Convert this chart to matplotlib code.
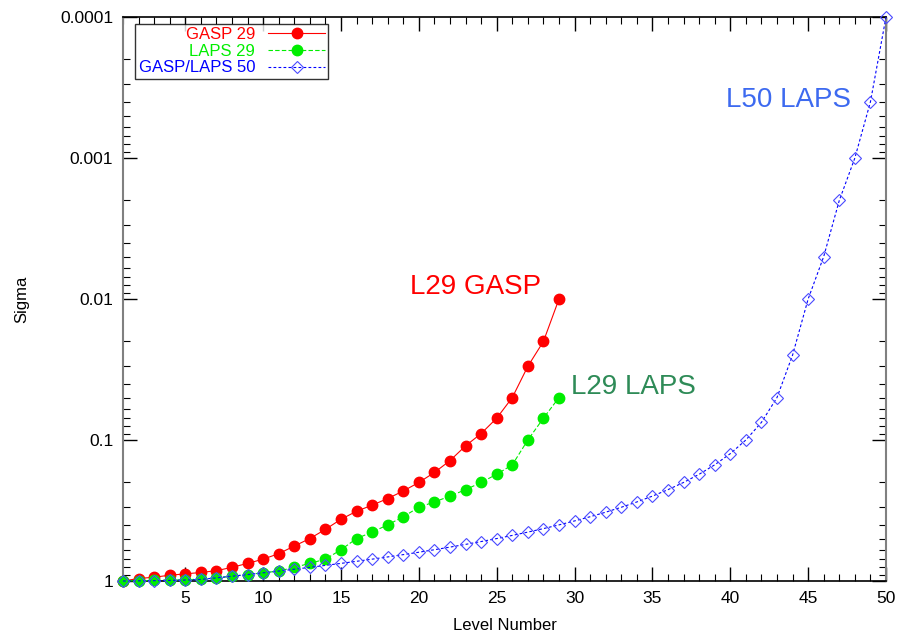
import matplotlib
matplotlib.use('Agg')
import matplotlib.pyplot as plt
from matplotlib.ticker import FixedLocator, FuncFormatter, MultipleLocator, LogLocator

plt.rcParams['font.family'] = ['Liberation Sans', 'DejaVu Sans']

levels_29 = list(range(1, 30))
levels_50 = list(range(1, 51))

gasp_29 = [1.0, 0.96, 0.94, 0.91, 0.89, 0.87, 0.845, 0.8, 0.75, 0.7,
           0.64, 0.565, 0.5, 0.43, 0.365, 0.32, 0.29, 0.26, 0.23, 0.2,
           0.17, 0.14, 0.11, 0.09, 0.07, 0.05, 0.03, 0.02, 0.01]

laps_29 = [1.0, 0.995, 0.99, 0.985, 0.98, 0.97, 0.95, 0.925, 0.9, 0.875,
           0.85, 0.8, 0.75, 0.7, 0.6, 0.5, 0.45, 0.4, 0.35, 0.3,
           0.275, 0.25, 0.225, 0.2, 0.175, 0.15, 0.1, 0.07, 0.05]

laps_50 = [1.0, 0.9975, 0.995, 0.99, 0.985, 0.975, 0.95, 0.925, 0.9, 0.875,
           0.85, 0.825, 0.8, 0.775, 0.75, 0.725, 0.7, 0.675, 0.65, 0.625,
           0.6, 0.575, 0.55, 0.525, 0.5, 0.475, 0.45, 0.425, 0.4, 0.375,
           0.35, 0.325, 0.3, 0.275, 0.25, 0.225, 0.2, 0.175, 0.15, 0.125,
           0.1, 0.075, 0.05, 0.025, 0.01, 0.005, 0.002, 0.001, 0.0004, 0.0001]

y_ticks = [1, 0.1, 0.01, 0.001, 0.0001]
y_labels = ['1', '0.1', '0.01', '0.001', '0.0001']

fig = plt.figure(figsize=(8.98, 6.37), dpi=100)
ax = fig.add_axes([123 / 898, 1 - 581 / 637, 763 / 898, 564 / 637])

ax.plot(levels_29, gasp_29, color='#ff0000', lw=0.8, ls='-', marker='o',
        ms=7.5, mfc='#ff0000', mec='#ff0000', label='GASP 29', zorder=3, clip_on=False)
ax.plot(levels_29, laps_29, color='#00ee00', lw=0.8, ls=(0, (4, 2)), marker='o',
        ms=7.5, mfc='#00ee00', mec='#00ee00', label='LAPS 29', zorder=4, clip_on=False)
ax.plot(levels_50, laps_50, color='#0000ff', lw=0.8, ls=(0, (2.5, 2)), marker='D',
        ms=6, mfc='none', mec='#4a4aff', mew=0.8, label='GASP/LAPS 50', zorder=5,
        clip_on=False)

ax.set_yscale('log')
ax.set_ylim(1, 0.0001)
ax.set_xlim(1, 50)

ax.yaxis.set_major_locator(FixedLocator(y_ticks))
ax.yaxis.set_major_formatter(FuncFormatter(lambda v, p: y_labels[y_ticks.index(v)] if v in y_ticks else ''))
ax.yaxis.set_minor_locator(LogLocator(base=10, subs=range(2, 10)))
ax.yaxis.set_minor_formatter(FuncFormatter(lambda v, p: ''))
ax.xaxis.set_major_locator(FixedLocator([5, 10, 15, 20, 25, 30, 35, 40, 45, 50]))
ax.xaxis.set_minor_locator(MultipleLocator(1))

ax.tick_params(which='both', direction='in', top=True, right=True, labelsize=12.5, pad=7)
ax.tick_params(which='major', length=10, width=1)
ax.tick_params(which='minor', length=5, width=0.8)
for side in ['left', 'right']:
    ax.spines[side].set_color('#808080')
    ax.spines[side].set_linewidth(1.5)
for side in ['top', 'bottom']:
    ax.spines[side].set_linewidth(1.2)

ax.set_xlabel('Level Number', fontsize=12, labelpad=9)
ax.set_ylabel('Sigma', fontsize=12, labelpad=22)

ax.text(19.4, 0.0082, 'L29 GASP', color='#ff0000', fontsize=20, ha='left', va='center')
ax.text(29.8, 0.042, 'L29 LAPS', color='#2e8b57', fontsize=20, ha='left', va='center')
ax.text(39.7, 0.00039, 'L50 LAPS', color='#3d6af0', fontsize=20, ha='left', va='center')

leg = ax.legend(loc='upper left', bbox_to_anchor=(0.016, 0.988), markerfirst=False,
                fontsize=12, frameon=True, fancybox=False, edgecolor='black',
                borderpad=0.2, labelspacing=0.1, handlelength=3.4, handletextpad=0.8,
                borderaxespad=0)
leg.get_frame().set_linewidth(1.0)
for text, col in zip(leg.get_texts(), ['#ff0000', '#00ee00', '#0000ff']):
    text.set_color(col)
    text.set_ha('right')

fig.savefig('out.png', dpi=100)
